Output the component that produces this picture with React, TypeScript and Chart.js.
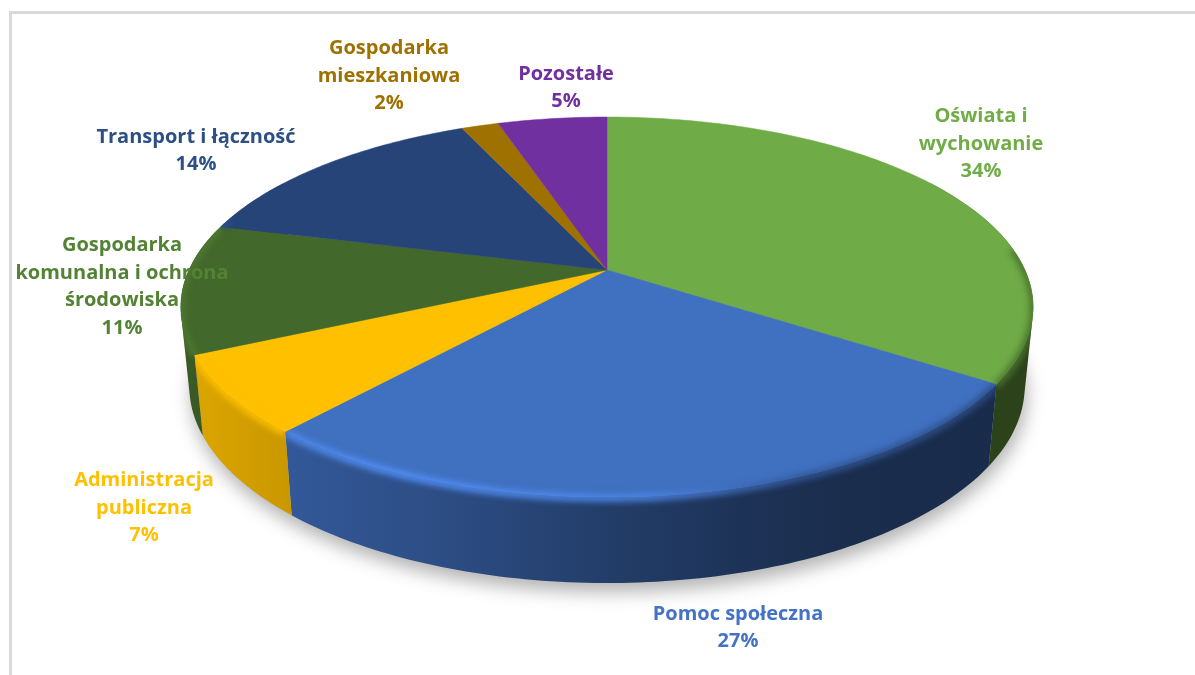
import React, { useEffect, useRef } from "react";
import { Chart, registerables } from "chart.js";

Chart.register(...registerables);

const categories = [
  ["Oświata i", "wychowanie"],
  ["Pomoc społeczna"],
  ["Administracja", "publiczna"],
  ["Gospodarka", "komunalna i ochrona", "środowiska"],
  ["Transport i łączność"],
  ["Gospodarka", "mieszkaniowa"],
  ["Pozostałe"],
];
const shares = [34.4, 27.0, 6.6, 11.0, 14.3, 1.7, 5.0];
const sliceColors = ["#6FAB46", "#4070C0", "#FFC000", "#43682B", "#264478", "#9E7100", "#7030A0"];
const labelColors = ["#70AD47", "#4472C4", "#FFC000", "#548235", "#2C4F86", "#9E7100", "#7030A0"];
// Centre of each label block (layout, not data)
const labelCentres = [
  [981, 144],
  [738, 628],
  [144, 508],
  [122, 287],
  [196, 151],
  [389, 76],
  [566, 88],
];

// Perspective disc
const CX = 607, CY = 270, RX = 418, RY = 182.8, K = 0.195;
const top = (t: number) => {
  const w = 1 - K * Math.sin(t);
  return [CX + (RX * Math.cos(t)) / w, CY + (RY * Math.sin(t)) / w];
};
const bottom = (t: number) => {
  const [x, y] = top(t);
  return [CX + (x - CX) * 0.98, 348 + (y - CY) * 1.035];
};
const STEP = Math.PI / 180;
const trace = (ctx: CanvasRenderingContext2D, f: (t: number) => number[], a: number, b: number, move = false) => {
  const n = Math.max(1, Math.ceil(Math.abs(b - a) / STEP));
  for (let i = 0; i <= n; i++) {
    const [x, y] = f(a + ((b - a) * i) / n);
    if (i === 0 && move) ctx.moveTo(x, y);
    else ctx.lineTo(x, y);
  }
};
// The wall as one path of small quads, all wound the same way, so they join without seams
const sweep = (ctx: CanvasRenderingContext2D, a: number, b: number) => {
  const n = Math.ceil((b - a) / STEP);
  for (let k = 0; k < n; k++) {
    const t0 = a + ((b - a) * k) / n;
    const t1 = a + ((b - a) * (k + 1)) / n;
    const q = [top(t0), top(t1), bottom(t1), bottom(t0)];
    let area = 0;
    q.forEach((p, j) => {
      const r = q[(j + 1) % 4];
      area += p[0] * r[1] - r[0] * p[1];
    });
    if (area < 0) q.reverse();
    ctx.moveTo(q[0][0], q[0][1]);
    q.slice(1).forEach((p) => ctx.lineTo(p[0], p[1]));
    ctx.closePath();
  }
};
const rgb = (hex: string) => [1, 3, 5].map((i) => parseInt(hex.slice(i, i + 2), 16));
const mul = (hex: string, f: number) => {
  const base = rgb(hex);
  const k = Math.min(f, 255 / Math.max(...base));
  const c = base.map((v) => Math.round(v * k));
  return `rgb(${c[0]},${c[1]},${c[2]})`;
};
// Lighting along x for the side wall
const sideStops: [number, number][] = [
  [185, 0.87],
  [290, 0.79],
  [450, 0.68],
  [600, 0.55],
  [750, 0.45],
  [850, 0.4],
  [1035, 0.385],
];
const X0 = 180, X1 = 1035;
const VIS0 = -0.55, VIS1 = Math.PI + 0.55;
const RIM0 = -0.12, RIM1 = Math.PI + 0.3;

const pie3d = {
  id: "pie3d",
  beforeDatasetsDraw(chart: any) {
    const ctx: CanvasRenderingContext2D = chart.ctx;
    const arcs = chart.getDatasetMeta(0).data;

    // soft ground shadow
    ctx.save();
    ctx.filter = "blur(9px)";
    ctx.fillStyle = "rgba(0,0,0,0.3)";
    ctx.beginPath();
    trace(ctx, (t) => {
      const [x, y] = bottom(t);
      return [x + 2, y + 9];
    }, 0, Math.PI * 2, true);
    ctx.closePath();
    ctx.fill();
    ctx.restore();

    // side walls
    arcs.forEach((arc: any, i: number) => {
      const a = Math.max(arc.startAngle, VIS0);
      const b = Math.min(arc.endAngle, VIS1);
      if (b <= a) return;
      const g = ctx.createLinearGradient(X0, 0, X1, 0);
      sideStops.forEach(([x, f]) => g.addColorStop((x - X0) / (X1 - X0), mul(sliceColors[i], f)));
      ctx.fillStyle = g;
      ctx.beginPath();
      sweep(ctx, a, b);
      ctx.fill();
    });

    // top faces
    arcs.forEach((arc: any, i: number) => {
      ctx.fillStyle = sliceColors[i];
      ctx.strokeStyle = sliceColors[i];
      ctx.lineWidth = 0.5;
      ctx.beginPath();
      ctx.moveTo(CX, CY);
      trace(ctx, top, arc.startAngle, arc.endAngle);
      ctx.closePath();
      ctx.fill();
      ctx.stroke();
    });

    // rounded rim: highlight on the left, shade on the right
    arcs.forEach((arc: any, i: number) => {
      const a = Math.max(arc.startAngle, RIM0);
      const b = Math.min(arc.endAngle, RIM1);
      if (b <= a) return;
      ctx.save();
      ctx.beginPath();
      ctx.moveTo(CX, CY);
      trace(ctx, top, arc.startAngle, arc.endAngle);
      ctx.closePath();
      const sa = Math.max(arc.startAngle, VIS0);
      const sb = Math.min(arc.endAngle, VIS1);
      if (sb > sa) sweep(ctx, sa, sb);
      ctx.clip();
      const hi = ctx.createLinearGradient(X0, 0, X1, 0);
      const base = sliceColors[i];
      hi.addColorStop(0, mul(base, 1.15));
      hi.addColorStop((400 - X0) / (X1 - X0), mul(base, 1.3));
      hi.addColorStop((650 - X0) / (X1 - X0), mul(base, 1.2));
      hi.addColorStop((800 - X0) / (X1 - X0), mul(base, 0.78));
      hi.addColorStop(1, mul(base, 0.66));
      ctx.filter = "blur(3px)";
      ctx.strokeStyle = hi;
      ctx.lineWidth = 7;
      ctx.lineJoin = "round";
      ctx.beginPath();
      trace(ctx, (t) => {
        const [x, y] = top(t);
        return [x, y + 1];
      }, a, b, true);
      ctx.stroke();
      ctx.restore();
    });
    return false;
  },
  afterDraw(chart: any) {
    const ctx: CanvasRenderingContext2D = chart.ctx;
    ctx.save();
    ctx.strokeStyle = "#d9d9d9";
    ctx.lineWidth = 3;
    ctx.beginPath();
    ctx.moveTo(10.5, 675);
    ctx.lineTo(10.5, 12.5);
    ctx.lineTo(1195, 12.5);
    ctx.stroke();

    ctx.font = '700 20px "Open Sans"';
    ctx.textAlign = "center";
    ctx.textBaseline = "middle";
    ctx.filter = "blur(0.4px)";
    const total = shares.reduce((s, v) => s + v, 0);
    categories.forEach((lines, i) => {
      const all = [...lines, `${Math.round((shares[i] / total) * 100)}%`];
      ctx.fillStyle = labelColors[i];
      const [x, y] = labelCentres[i];
      all.forEach((t, j) => ctx.fillText(t, x, y + (j - (all.length - 1) / 2) * 27.5));
    });
    ctx.restore();
  },
};

export default function App() {
  const ref = useRef<HTMLCanvasElement>(null);
  useEffect(() => {
    const chart = new Chart(ref.current!, {
      type: "pie",
      data: {
        labels: categories.map((c) => c.join(" ")),
        datasets: [{ data: shares, backgroundColor: sliceColors, borderWidth: 0 }],
      },
      options: {
        animation: false,
        responsive: false,
        rotation: 0,
        plugins: { legend: { display: false }, tooltip: { enabled: false } },
      },
      plugins: [pie3d],
    } as any);
    return () => chart.destroy();
  }, []);
  return (
    <canvas
      ref={ref}
      width={1195}
      height={675}
      style={{ position: "fixed", left: 0, top: 0, display: "block", background: "#fff" }}
    />
  );
}
